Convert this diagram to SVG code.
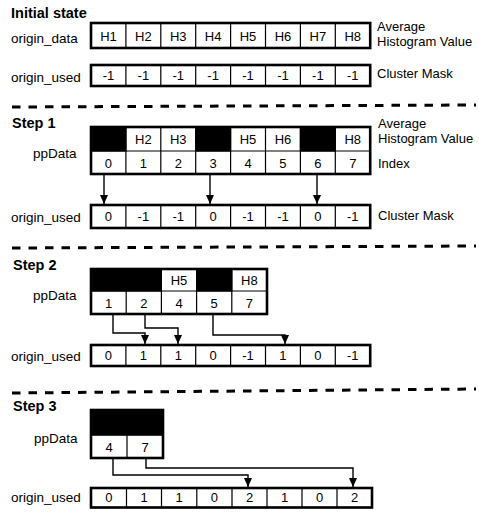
<svg xmlns="http://www.w3.org/2000/svg" width="479" height="515" viewBox="0 0 479 515">
<style>
text{font-family:"Liberation Sans",Arial,sans-serif;fill:#000}
.ttl{font-size:14.5px;font-weight:bold}
.lbl{font-size:13.5px}
.rl{font-size:13px}
.c{font-size:13px;text-anchor:middle}
.cell{fill:#fff;stroke:#000;stroke-width:1.2}
.blk{fill:#000;stroke:#000;stroke-width:1.2}
.out{fill:none;stroke:#000;stroke-width:2.6}
.dash{stroke:#000;stroke-width:3;stroke-dasharray:8.5 8;fill:none}
.con{fill:none;stroke:#000;stroke-width:1.4}
</style>
<defs>
<marker id="ah" markerUnits="userSpaceOnUse" markerWidth="9" markerHeight="8" viewBox="0 0 9 8" refX="9" refY="4" orient="auto">
<path d="M0,0 L9,4 L0,8 z" fill="#000"/>
</marker>
</defs>
<rect width="479" height="515" fill="#fff"/>

<!-- separators -->
<g id="separators">
<line class="dash" x1="12" y1="107" x2="476" y2="105"/>
<line class="dash" x1="12" y1="248" x2="476" y2="246"/>
<line class="dash" x1="12" y1="393" x2="476" y2="389"/>
</g>

<!-- Initial state -->
<g id="initial">
<text class="ttl" x="11" y="18">Initial state</text>
<text class="lbl" x="11" y="43">origin_data</text>
<text class="lbl" x="11" y="82">origin_used</text>
<text class="rl" x="377" y="31">Average</text>
<text class="rl" x="377" y="46">Histogram Value</text>
<text class="rl" x="377" y="78">Cluster Mask</text>
</g>
<g id="init_origin_data">
<rect class="cell" x="91" y="23" width="279.2" height="25"/>
<path class="cell" d="M125.9,23V48M160.8,23V48M195.7,23V48M230.6,23V48M265.5,23V48M300.4,23V48M335.3,23V48"/>
<rect class="out" x="91" y="23" width="279.2" height="25"/>
<text class="c" x="108.45" y="40.5">H1</text>
<text class="c" x="143.35" y="40.5">H2</text>
<text class="c" x="178.25" y="40.5">H3</text>
<text class="c" x="213.15" y="40.5">H4</text>
<text class="c" x="248.05" y="40.5">H5</text>
<text class="c" x="282.95" y="40.5">H6</text>
<text class="c" x="317.85" y="40.5">H7</text>
<text class="c" x="352.75" y="40.5">H8</text>
</g>
<g id="init_origin_used">
<rect class="cell" x="91" y="65" width="279.2" height="21"/>
<path class="cell" d="M125.9,65V86M160.8,65V86M195.7,65V86M230.6,65V86M265.5,65V86M300.4,65V86M335.3,65V86"/>
<rect class="out" x="91" y="65" width="279.2" height="21"/>
<text class="c" x="108.45" y="80">-1</text>
<text class="c" x="143.35" y="80">-1</text>
<text class="c" x="178.25" y="80">-1</text>
<text class="c" x="213.15" y="80">-1</text>
<text class="c" x="248.05" y="80">-1</text>
<text class="c" x="282.95" y="80">-1</text>
<text class="c" x="317.85" y="80">-1</text>
<text class="c" x="352.75" y="80">-1</text>
</g>

<!-- Step 1 -->
<g id="step1">
<text class="ttl" x="12" y="128">Step 1</text>
<text class="lbl" x="33" y="158">ppData</text>
<text class="lbl" x="11" y="222">origin_used</text>
<text class="rl" x="378" y="128">Average</text>
<text class="rl" x="378" y="143">Histogram Value</text>
<text class="rl" x="378" y="168">Index</text>
<text class="rl" x="378" y="220">Cluster Mask</text>
</g>
<g id="step1_ppData">
<rect class="cell" x="91" y="127" width="279.2" height="47"/>
<rect class="blk" x="91" y="127" width="34.9" height="24"/>
<rect class="blk" x="195.7" y="127" width="34.9" height="24"/>
<rect class="blk" x="300.4" y="127" width="34.9" height="24"/>
<path class="cell" d="M91,151H370.2M125.9,127V174M160.8,127V174M195.7,127V174M230.6,127V174M265.5,127V174M300.4,127V174M335.3,127V174"/>
<rect class="out" x="91" y="127" width="279.2" height="47"/>
<text class="c" x="143.35" y="144">H2</text>
<text class="c" x="178.25" y="144">H3</text>
<text class="c" x="248.05" y="144">H5</text>
<text class="c" x="282.95" y="144">H6</text>
<text class="c" x="352.75" y="144">H8</text>
<text class="c" x="108.45" y="167.5">0</text>
<text class="c" x="143.35" y="167.5">1</text>
<text class="c" x="178.25" y="167.5">2</text>
<text class="c" x="213.15" y="167.5">3</text>
<text class="c" x="248.05" y="167.5">4</text>
<text class="c" x="282.95" y="167.5">5</text>
<text class="c" x="317.85" y="167.5">6</text>
<text class="c" x="352.75" y="167.5">7</text>
</g>
<g id="step1_origin_used">
<rect class="cell" x="91" y="205" width="279.2" height="23"/>
<path class="cell" d="M125.9,205V228M160.8,205V228M195.7,205V228M230.6,205V228M265.5,205V228M300.4,205V228M335.3,205V228"/>
<rect class="out" x="91" y="205" width="279.2" height="23"/>
<text class="c" x="108.45" y="221">0</text>
<text class="c" x="143.35" y="221">-1</text>
<text class="c" x="178.25" y="221">-1</text>
<text class="c" x="213.15" y="221">0</text>
<text class="c" x="248.05" y="221">-1</text>
<text class="c" x="282.95" y="221">-1</text>
<text class="c" x="317.85" y="221">0</text>
<text class="c" x="352.75" y="221">-1</text>
</g>

<!-- Step 2 -->
<g id="step2">
<text class="ttl" x="13" y="270">Step 2</text>
<text class="lbl" x="33" y="300">ppData</text>
<text class="lbl" x="11" y="361">origin_used</text>
</g>
<g id="step2_ppData">
<rect class="cell" x="91" y="269" width="176" height="45"/>
<rect class="blk" x="91" y="269" width="70.4" height="22"/>
<rect class="blk" x="196.6" y="269" width="35.2" height="22"/>
<path class="cell" d="M91,291H267M126.2,291V314M161.4,269V314M196.6,269V314M231.8,269V314"/>
<rect class="out" x="91" y="269" width="176" height="45"/>
<text class="c" x="179" y="285">H5</text>
<text class="c" x="249.4" y="285">H8</text>
<text class="c" x="108.6" y="307.5">1</text>
<text class="c" x="143.8" y="307.5">2</text>
<text class="c" x="179" y="307.5">4</text>
<text class="c" x="214.2" y="307.5">5</text>
<text class="c" x="249.4" y="307.5">7</text>
</g>
<g id="step2_origin_used">
<rect class="cell" x="91" y="345" width="279.2" height="21"/>
<path class="cell" d="M125.9,345V366M160.8,345V366M195.7,345V366M230.6,345V366M265.5,345V366M300.4,345V366M335.3,345V366"/>
<rect class="out" x="91" y="345" width="279.2" height="21"/>
<text class="c" x="108.45" y="360">0</text>
<text class="c" x="143.35" y="360">1</text>
<text class="c" x="178.25" y="360">1</text>
<text class="c" x="213.15" y="360">0</text>
<text class="c" x="248.05" y="360">-1</text>
<text class="c" x="282.95" y="360">1</text>
<text class="c" x="317.85" y="360">0</text>
<text class="c" x="352.75" y="360">-1</text>
</g>

<!-- Step 3 -->
<g id="step3">
<text class="ttl" x="13" y="411">Step 3</text>
<text class="lbl" x="34" y="443">ppData</text>
<text class="lbl" x="11" y="502">origin_used</text>
</g>
<g id="step3_ppData">
<rect class="cell" x="91" y="410" width="72" height="48"/>
<rect class="blk" x="91" y="410" width="72" height="25"/>
<path class="cell" d="M91,435H163M127,435V458"/>
<rect class="out" x="91" y="410" width="72" height="48"/>
<text class="c" x="109" y="451.5">4</text>
<text class="c" x="145" y="451.5">7</text>
</g>
<g id="step3_origin_used">
<rect class="cell" x="91" y="488" width="281" height="19.5"/>
<path class="cell" d="M126.5,488V507.5M161.5,488V507.5M196.8,488V507.5M232,488V507.5M267,488V507.5M302,488V507.5M337,488V507.5"/>
<rect class="out" x="91" y="488" width="281" height="19.5"/>
<text class="c" x="108.75" y="502">0</text>
<text class="c" x="144" y="502">1</text>
<text class="c" x="179.2" y="502">1</text>
<text class="c" x="214.4" y="502">0</text>
<text class="c" x="249.5" y="502">2</text>
<text class="c" x="284.5" y="502">1</text>
<text class="c" x="319.5" y="502">0</text>
<text class="c" x="354.5" y="502">2</text>
</g>

<!-- connectors -->
<g id="connectors">
<path class="con" marker-end="url(#ah)" d="M104,174V204"/>
<path class="con" marker-end="url(#ah)" d="M210,174V204"/>
<path class="con" marker-end="url(#ah)" d="M317,174V204"/>
<path class="con" marker-end="url(#ah)" d="M113,314V333H145V344"/>
<path class="con" marker-end="url(#ah)" d="M145,314V328H178V344"/>
<path class="con" marker-end="url(#ah)" d="M213,314V335H285V344"/>
<path class="con" marker-end="url(#ah)" d="M113,458V475H248V487"/>
<path class="con" marker-end="url(#ah)" d="M146,458V468H353V487"/>
</g>
</svg>
